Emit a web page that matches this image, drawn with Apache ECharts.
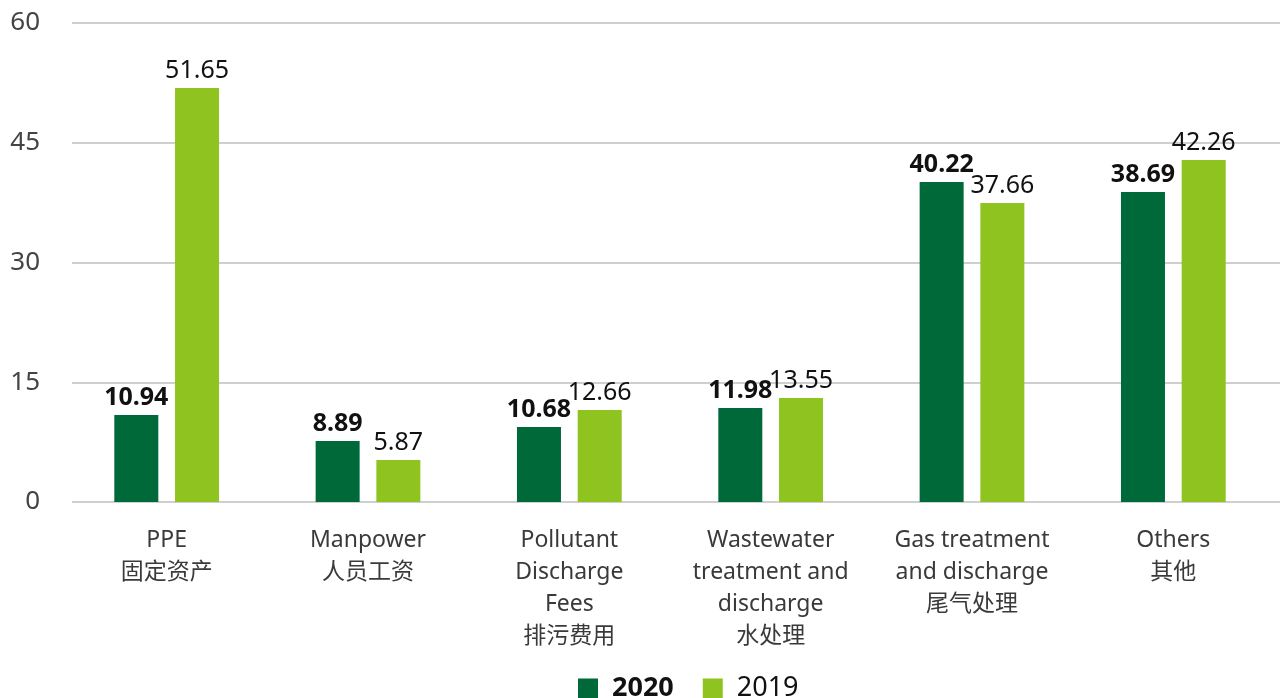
<!DOCTYPE html>
<html>
<head>
<meta charset="utf-8">
<script src="https://cdn.jsdelivr.net/npm/echarts@6/dist/echarts.min.js"></script>
<style>html,body{margin:0;padding:0;background:#fff;}#c{width:1280px;height:698px;}</style>
</head>
<body>
<div id="c"></div>
<script>
const categories = [
  "PPE\n固定资产",
  "Manpower\n人员工资",
  "Pollutant\nDischarge\nFees\n排污费用",
  "Wastewater\ntreatment and\ndischarge\n水处理",
  "Gas treatment\nand discharge\n尾气处理",
  "Others\n其他"
];
const seriesNames = ["2020", "2019"];
// bar heights as drawn in the picture
const values2020 = [10.9, 7.64, 9.4, 11.78, 40.08, 38.83];
const values2019 = [51.86, 5.26, 11.52, 13.03, 37.45, 42.84];
// value labels as printed
const labels2020 = ["10.94", "8.89", "10.68", "11.98", "40.22", "38.69"];
const labels2019 = ["51.65", "5.87", "12.66", "13.55", "37.66", "42.26"];
const yTicks = [0, 15, 30, 45, 60];

const FONT = '"Noto Sans", "Noto Sans CJK SC", sans-serif';
const chart = echarts.init(document.getElementById('c'));
chart.setOption({
  animation: false,
  textStyle: { fontFamily: FONT },
  grid: [
    { left: 66, right: 6, top: 23, bottom: 196 },
    { left: 72, right: 0, top: 23, bottom: 196 }
  ],
  legend: {
    top: 675,
    left: 578,
    padding: 0,
    itemWidth: 20,
    itemHeight: 20,
    itemGap: 29,
    icon: 'rect',
    data: seriesNames,
    textStyle: {
      fontSize: 27, color: '#111', fontFamily: FONT,
      rich: {
        b: { fontSize: 27, fontWeight: 'bold', color: '#111', fontFamily: FONT, padding: [0, 0, 0, 9] },
        n: { fontSize: 27, color: '#111', fontFamily: FONT, padding: [0, 0, 0, 9] }
      }
    },
    formatter: function (n) { return n === '2020' ? '{b|' + n + '}' : '{n|' + n + '}'; }
  },
  xAxis: [
    {
      type: 'category',
      gridIndex: 0,
      data: categories,
      axisTick: { show: false },
      axisLine: { show: false },
      axisLabel: { fontSize: 23, color: '#3a3a3a', lineHeight: 32, margin: 22, interval: 0, fontFamily: FONT }
    },
    { type: 'value', gridIndex: 1, show: false, min: 0, max: 1 }
  ],
  yAxis: [
    {
      type: 'value',
      gridIndex: 0,
      min: yTicks[0],
      max: yTicks[yTicks.length - 1],
      interval: 15,
      axisLine: { show: false },
      axisTick: { show: false },
      splitLine: { show: false },
      axisLabel: { fontSize: 26, color: '#444', margin: 26, fontFamily: FONT }
    },
    {
      type: 'value',
      gridIndex: 1,
      min: yTicks[0],
      max: yTicks[yTicks.length - 1],
      interval: 15,
      axisLine: { show: false },
      axisTick: { show: false },
      axisLabel: { show: false },
      splitLine: { lineStyle: { color: '#cfcfcf', width: 2 } }
    }
  ],
  series: [
    {
      name: seriesNames[0],
      type: 'bar',
      barWidth: 44,
      barGap: '38%',
      data: values2020,
      itemStyle: { color: '#006939' },
      label: {
        show: true, position: 'top', distance: 5,
        fontSize: 25, fontWeight: 'bold', color: '#111', fontFamily: FONT,
        formatter: function (p) { return labels2020[p.dataIndex]; }
      }
    },
    {
      name: seriesNames[1],
      type: 'bar',
      barWidth: 44,
      data: values2019,
      itemStyle: { color: '#8FC31F' },
      label: {
        show: true, position: 'top', distance: 5,
        fontSize: 25, color: '#111', fontFamily: FONT,
        formatter: function (p) { return labels2019[p.dataIndex]; }
      }
    }
  ]
});
</script>
</body>
</html>
